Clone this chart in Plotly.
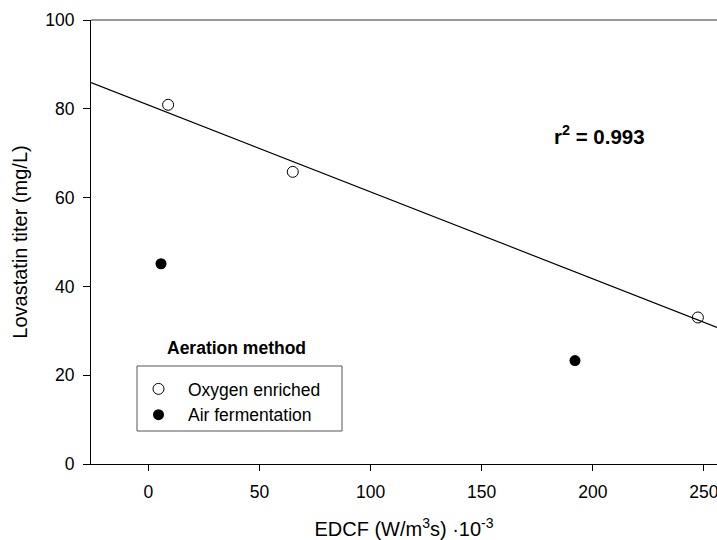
import numpy as np
import plotly.graph_objects as go

# Data
oxygen_x = [8.9, 65.0, 247.3]
oxygen_y = [80.9, 65.8, 33.0]
air_x = [5.7, 192.0]
air_y = [45.1, 23.3]
x_ticks = [0, 50, 100, 150, 200, 250]
y_ticks = [0, 20, 40, 60, 80, 100]
r2_text = "r<sup>2</sup> = 0.993"

x_range = [-25.8, 255.9]
y_range = [0, 100]

slope, intercept = np.polyfit(oxygen_x, oxygen_y, 1)
fit_x = np.array(x_range)
fit_y = slope * fit_x + intercept

FONT = "Liberation Sans, Arial, sans-serif"

# figure placed at page origin (body margin removed below)
L, T, PW, PH, B = 91, 20, 626, 444, 76


def px(xp):
    return (xp - L) / PW


def py(yp):
    return 1 - (yp - T) / PH


fig = go.Figure()
fig.add_trace(go.Scatter(x=fit_x, y=fit_y, mode="lines",
                         line=dict(color="black", width=1.2),
                         showlegend=False, hoverinfo="skip"))
fig.add_trace(go.Scatter(x=oxygen_x, y=oxygen_y, mode="markers", name="Oxygen enriched",
                         legendgroup="a",
                         marker=dict(symbol="circle-open", size=11, color="black",
                                     line=dict(width=1, color="black"))))
fig.add_trace(go.Scatter(x=air_x, y=air_y, mode="markers", name="Air fermentation",
                         legendgroup="b",
                         marker=dict(symbol="circle", size=11, color="black")))

fig.update_layout(
    width=L + PW, height=T + PH + B,
    margin=dict(l=L, r=0, t=T, b=B, autoexpand=False),
    plot_bgcolor="white", paper_bgcolor="white",
    font=dict(family=FONT, size=17.5, color="black"),
    xaxis=dict(range=x_range, tickvals=x_ticks, showgrid=False, zeroline=False,
               showline=True, linecolor="black", linewidth=1,
               ticks="outside", ticklen=6, tickcolor="black",
               ticklabeloverflow="allow", ticklabelstandoff=6,
               tickfont=dict(size=17.5),
               title=dict(text="EDCF (W/m<sup>3</sup>s) ·10<sup>-3</sup>",
                          font=dict(size=20), standoff=23)),
    yaxis=dict(range=y_range, tickvals=y_ticks, showgrid=False, zeroline=False,
               showline=True, linecolor="black", linewidth=1,
               ticks="outside", ticklen=7, tickcolor="black",
               ticklabelstandoff=5,
               tickfont=dict(size=17.5),
               title=dict(text="Lovastatin titer (mg/L)",
                          font=dict(size=20), standoff=12)),
    legend=dict(x=px(129), y=py(371), xanchor="left", yanchor="top",
                bgcolor="rgba(0,0,0,0)", borderwidth=0,
                font=dict(size=17.5), itemwidth=49, tracegroupgap=0),
    shapes=[
        dict(type="line", xref="paper", yref="paper", x0=0, x1=1, y0=1, y1=1,
             line=dict(color="#777777", width=1.5)),
        dict(type="rect", xref="paper", yref="paper",
             x0=px(137), x1=px(342), y0=py(431), y1=py(366),
             line=dict(color="#555555", width=1)),
    ],
    annotations=[
        dict(text="<b>Aeration method</b>", xref="paper", yref="paper",
             x=px(236), y=py(348), xanchor="center", yanchor="middle",
             showarrow=False, font=dict(size=17.5)),
        dict(text="<b>" + r2_text + "</b>", xref="paper", yref="paper",
             x=px(599), y=py(135), xanchor="center", yanchor="middle",
             showarrow=False, font=dict(size=20.5)),
    ],
)

fig.write_html("out.html", config={"displayModeBar": False},
               post_script="document.body.style.margin='0';")
